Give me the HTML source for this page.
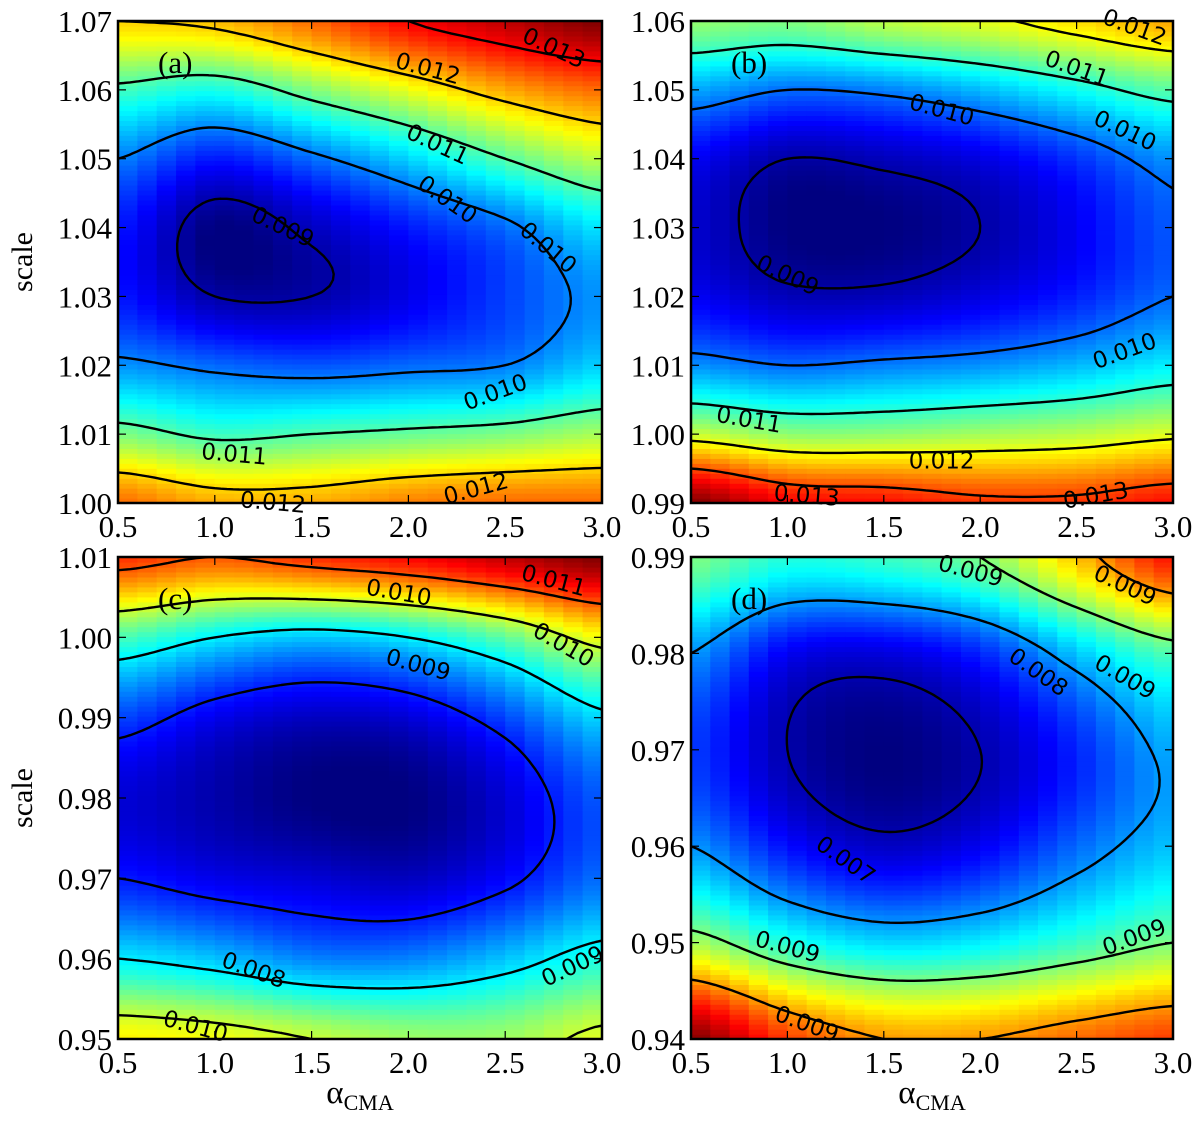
<!DOCTYPE html>
<html><head><meta charset="utf-8"><style>
body{margin:0;background:#fff;width:1200px;height:1117px;overflow:hidden}
svg text{font-family:"Liberation Serif",serif}
</style></head><body>
<svg id="fig" width="1200" height="1117" xmlns="http://www.w3.org/2000/svg"></svg>
<script>
// ---- data ----
const xCols = [0.5,1.0,1.5,2.0,2.5,3.0];
const rowsA = [1.00,1.01,1.02,1.03,1.04,1.05,1.06,1.07];
const valsA = [ // per column (x), bottom->top
 [0.0125,0.0112,0.0101,0.0095,0.0095,0.0100,0.0109,0.0120],
 [0.0122,0.0109,0.0099,0.0090,0.0088,0.0095,0.0107,0.0121],
 [0.0122,0.0110,0.0098,0.0090,0.0091,0.0099,0.0112,0.0125],
 [0.0124,0.0111,0.0099,0.0093,0.0095,0.0104,0.0117,0.0130],
 [0.0125,0.0112,0.0100,0.0097,0.0099,0.0110,0.0122,0.0133],
 [0.0125,0.0114,0.0104,0.0101,0.0105,0.0115,0.0125,0.0136]];
const rowsB = [0.99,1.00,1.01,1.02,1.03,1.04,1.05,1.06];
const valsB = [
 [0.0140,0.0118,0.0102,0.0094,0.0092,0.0094,0.0103,0.0115],
 [0.0134,0.0115,0.0100,0.0091,0.0088,0.0090,0.0100,0.0114],
 [0.0133,0.0115,0.0101,0.0091,0.0088,0.0091,0.0101,0.0117],
 [0.0131,0.0116,0.0102,0.0093,0.0090,0.0093,0.0104,0.0119],
 [0.0131,0.0117,0.0104,0.0096,0.0094,0.0097,0.0108,0.0122],
 [0.0133,0.0119,0.0107,0.0100,0.0099,0.0102,0.0112,0.0125]];
const rowsC = [0.95,0.96,0.97,0.98,0.99,1.00,1.01];
const valsC = [
 [0.0103,0.0090,0.0080,0.0077,0.0082,0.0094,0.0112],
 [0.0102,0.0088,0.0078,0.0075,0.0078,0.0090,0.0110],
 [0.0100,0.0085,0.0077,0.0073,0.0076,0.0088,0.0112],
 [0.0098,0.0085,0.0076,0.0073,0.0077,0.0090,0.0114],
 [0.0098,0.0088,0.0079,0.0077,0.0082,0.0095,0.0117],
 [0.0101,0.0092,0.0084,0.0083,0.0089,0.0102,0.0120]];
const rowsD = [0.94,0.95,0.96,0.97,0.98,0.99];
const valsD = [
 [0.0112,0.0092,0.0080,0.0076,0.0080,0.0090],
 [0.0104,0.0086,0.0074,0.0070,0.0073,0.0086],
 [0.0100,0.0083,0.0071,0.0068,0.0072,0.0087],
 [0.0100,0.0084,0.0073,0.0070,0.0075,0.0090],
 [0.0102,0.0087,0.0078,0.0075,0.0082,0.0098],
 [0.0104,0.0090,0.0082,0.0081,0.0088,0.0106]];
const levelsA = [0.009,0.010,0.011,0.012,0.013];
const levelsB = [0.009,0.010,0.011,0.012,0.013];
const levelsC = [0.008,0.009,0.010,0.011];
const levelsD = [0.007,0.008,0.009,0.010];
const xTicks = ["0.5","1.0","1.5","2.0","2.5","3.0"];
const yTicksA = ["1.00","1.01","1.02","1.03","1.04","1.05","1.06","1.07"];
const yTicksB = ["0.99","1.00","1.01","1.02","1.03","1.04","1.05","1.06"];
const yTicksC = ["0.95","0.96","0.97","0.98","0.99","1.00","1.01"];
const yTicksD = ["0.94","0.95","0.96","0.97","0.98","0.99"];
const labelsA = [['0.009',1.35,1.040,25],['0.010',2.2,1.044,35],['0.010',2.72,1.037,40],['0.011',2.15,1.052,25],['0.012',2.1,1.063,15],['0.013',2.75,1.066,25],['0.010',2.45,1.016,-20],['0.011',1.1,1.007,5],['0.012',1.3,1.0,5],['0.012',2.35,1.002,-15]];
const labelsB = [['0.012',2.8,1.059,20],['0.011',2.5,1.053,20],['0.010',1.8,1.047,15],['0.010',2.75,1.044,25],['0.009',1.0,1.023,25],['0.010',2.75,1.012,-20],['0.011',0.8,1.002,10],['0.012',1.8,0.996,0],['0.013',1.1,0.991,5],['0.013',2.6,0.991,-10]];
const labelsC = [['0.010',1.95,1.0055,10],['0.011',2.75,1.007,15],['0.010',2.8,0.999,30],['0.009',2.05,0.9965,15],['0.008',1.2,0.9585,20],['0.009',2.85,0.959,-25],['0.010',0.9,0.9515,15]];
const labelsD = [['0.009',1.95,0.9885,15],['0.009',2.75,0.987,25],['0.009',2.75,0.9775,30],['0.008',2.3,0.978,35],['0.007',1.3,0.9585,35],['0.009',1.0,0.9495,15],['0.009',2.8,0.9505,-20],['0.009',1.1,0.9415,20]];

const panels = [
 {tag:'(a)',name:'panel-a',L:118,T:21,W:484,H:482,rows:rowsA,vals:valsA,levels:levelsA,yt:yTicksA,labels:labelsA,ylab:true,xlab:false},
 {tag:'(b)',name:'panel-b',L:691,T:21,W:482,H:482,rows:rowsB,vals:valsB,levels:levelsB,yt:yTicksB,labels:labelsB,ylab:false,xlab:false},
 {tag:'(c)',name:'panel-c',L:118,T:557,W:484,H:482,rows:rowsC,vals:valsC,levels:levelsC,yt:yTicksC,labels:labelsC,ylab:true,xlab:true},
 {tag:'(d)',name:'panel-d',L:691,T:557,W:482,H:482,rows:rowsD,vals:valsD,levels:levelsD,yt:yTicksD,labels:labelsD,ylab:false,xlab:true}];

const NS='http://www.w3.org/2000/svg';
const svg=document.getElementById('fig');
function mk(tag,attrs,parent){const e=document.createElementNS(NS,tag);for(const k in attrs)e.setAttribute(k,attrs[k]);parent.appendChild(e);return e;}
function jet(t){t=Math.max(0,Math.min(1,t));
 const r=Math.max(0,Math.min(1,1.5-Math.abs(4*t-3))),g=Math.max(0,Math.min(1,1.5-Math.abs(4*t-2))),b=Math.max(0,Math.min(1,1.5-Math.abs(4*t-1)));
 return `rgb(${Math.round(r*255)},${Math.round(g*255)},${Math.round(b*255)})`;}
function cr(p0,p1,p2,p3,t){return 0.5*(2*p1+(-p0+p2)*t+(2*p0-5*p1+4*p2-p3)*t*t+(-p0+3*p1-3*p2+p3)*t*t*t);}

const layers=[];
panels.forEach(p=>{
 const g=mk('g',{},svg);
 
 
 const x0=0.5,x1=3.0,y0=p.rows[0],y1=p.rows[p.rows.length-1];
 const sx=v=>p.L+(v-x0)/(x1-x0)*p.W, sy=v=>p.T+p.H-(v-y0)/(y1-y0)*p.H;
 const all=p.vals.flat(),vmin=Math.min(...all),vmax=Math.max(...all);
 const nC=xCols.length,nR=p.rows.length;
 const V=(i,j)=>{i=Math.max(0,Math.min(nC-1,i));j=Math.max(0,Math.min(nR-1,j));return p.vals[i][j];};
 function f(x,y){
  const fx=(x-xCols[0])/(xCols[1]-xCols[0]),fy=(y-p.rows[0])/(p.rows[1]-p.rows[0]);
  let i=Math.min(nC-2,Math.floor(fx)),j=Math.min(nR-2,Math.floor(fy));
  const tx=fx-i,ty=fy-j;const col=[];
  for(let k=-1;k<3;k++)col.push(cr(V(i+k,j-1),V(i+k,j),V(i+k,j+1),V(i+k,j+2),ty));
  return cr(col[0],col[1],col[2],col[3],tx);}
 const cp=mk('clipPath',{id:'cp'+p.name},g);
 mk('rect',{x:p.L,y:p.T,width:p.W,height:p.H},cp);
 const hm=mk('g',{'clip-path':`url(#cp${p.name})`},g);
 
 
 const nbx=25,nby=97;
 for(let a=0;a<nbx;a++){
  const xa=x0+(x1-x0)*a/nbx,xb=x0+(x1-x0)*(a+1)/nbx,xc=(xa+xb)/2;
  for(let b=0;b<nby;b++){
   const ya=y0+(y1-y0)*b/nby,yb=y0+(y1-y0)*(b+1)/nby;
   const v=f(xc,(ya+yb)/2);
   const r=mk('rect',{x:sx(xa).toFixed(1),y:(sy(yb)).toFixed(1),width:(sx(xb)-sx(xa)+0.6).toFixed(1),height:(sy(ya)-sy(yb)+0.6).toFixed(1),fill:jet((v-vmin)/(vmax-vmin))},hm);
   
   
  }}
 const nx=81,ny=81,gx=[],gy=[],G=[];
 for(let a=0;a<nx;a++)gx.push(x0+(x1-x0)*a/(nx-1));
 for(let b=0;b<ny;b++)gy.push(y0+(y1-y0)*b/(ny-1));
 for(let a=0;a<nx;a++){G.push([]);for(let b=0;b<ny;b++)G[a].push(f(gx[a],gy[b]));}
 p.levels.forEach(lv=>{
  let d='';
  for(let a=0;a<nx-1;a++)for(let b=0;b<ny-1;b++){
   const c=[[a,b],[a+1,b],[a+1,b+1],[a,b+1]];
   const pts=[];
   for(let k=0;k<4;k++){const [i1,j1]=c[k],[i2,j2]=c[(k+1)%4];const v1=G[i1][j1],v2=G[i2][j2];
    if((v1<lv)!==(v2<lv)){const t=(lv-v1)/(v2-v1);pts.push([sx(gx[i1]+(gx[i2]-gx[i1])*t),sy(gy[j1]+(gy[j2]-gy[j1])*t)]);}}
   for(let k=0;k+1<pts.length;k+=2)d+=`M${pts[k][0].toFixed(1)},${pts[k][1].toFixed(1)}L${pts[k+1][0].toFixed(1)},${pts[k+1][1].toFixed(1)}`;
  }
  const pa=mk('path',{d:d,stroke:'#000','stroke-width':2.4,fill:'none','stroke-linecap':'round','clip-path':`url(#cp${p.name})`},g);
  
  
 });
 p.labels.forEach(l=>{
  const t=mk('text',{x:sx(l[1]),y:sy(l[2]),'text-anchor':'middle','dominant-baseline':'central','font-size':23,transform:`rotate(${l[3]} ${sx(l[1])} ${sy(l[2])})`,style:'font-family:"DejaVu Sans",sans-serif'},g);
  t.textContent=l[0];
  
  
 });
 const tg=mk('text',{x:p.L+40,y:p.T+52,'font-size':31},g);tg.textContent=p.tag;
 
 
 const fr=mk('rect',{x:p.L,y:p.T,width:p.W,height:p.H,fill:'none',stroke:'#000','stroke-width':2.5},g);
 
 
 p.yt.forEach(s=>{const Y=sy(parseFloat(s));
  mk('line',{x1:p.L,x2:p.L+8,y1:Y,y2:Y,stroke:'#000','stroke-width':1.2},g);
  mk('line',{x1:p.L+p.W,x2:p.L+p.W-8,y1:Y,y2:Y,stroke:'#000','stroke-width':1.2},g);
  const t=mk('text',{x:p.L-6,y:Y+11,'text-anchor':'end','font-size':31},g);t.textContent=s;
  
  });
 layers.push(()=>{
  xTicks.forEach(s=>{const X=sx(parseFloat(s));
   mk('line',{x1:X,x2:X,y1:p.T+p.H,y2:p.T+p.H-8,stroke:'#000','stroke-width':1.2},g);
   mk('line',{x1:X,x2:X,y1:p.T,y2:p.T+8,stroke:'#000','stroke-width':1.2},g);
   const t=mk('text',{x:X,y:p.T+p.H+34,'text-anchor':'middle','font-size':31},svg);t.textContent=s;
   
   });
 });
 if(p.ylab){const cy=p.T+p.H/2;const t=mk('text',{x:32,y:cy,'text-anchor':'middle','font-size':30,transform:`rotate(-90 32 ${cy})`},g);t.textContent='scale';
  
  }
 if(p.xlab){const cx=p.L+p.W/2;const t=mk('text',{x:cx,y:1103,'text-anchor':'middle','font-size':33},g);
  t.innerHTML='α<tspan font-size="22" dy="7">CMA</tspan>';
  
  }
});
layers.forEach(fn=>fn());
</script>
</body></html>
